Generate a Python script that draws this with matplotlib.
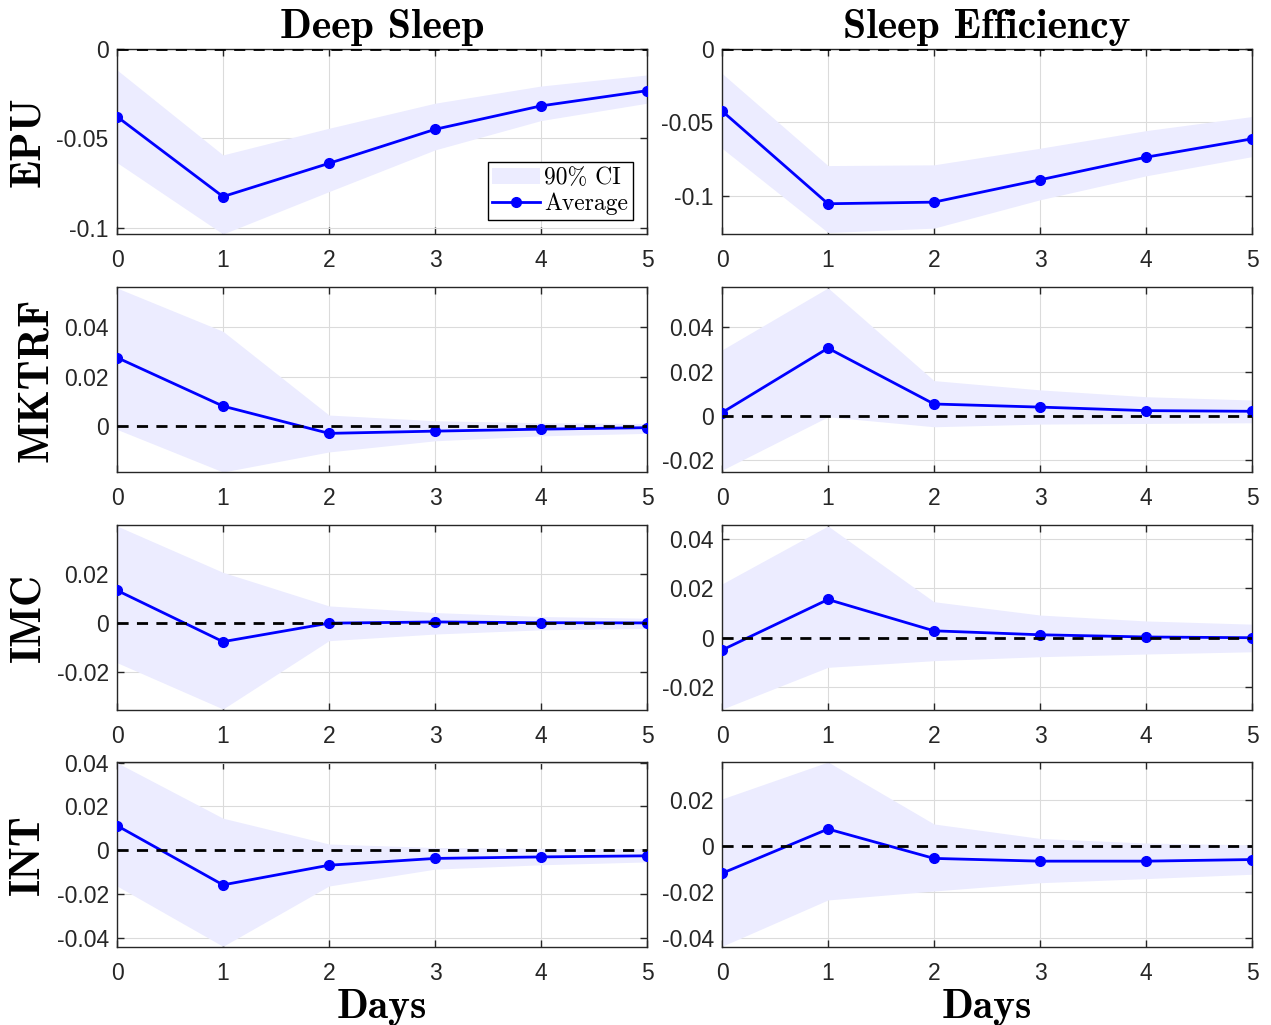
import matplotlib
matplotlib.use("Agg")
import matplotlib.pyplot as plt

plt.rcParams['axes.unicode_minus'] = False

dias = [0, 1, 2, 3, 4, 5]
colunas = ["Deep Sleep", "Sleep Efficiency"]
linhas = ["EPU", "MKTRF", "IMC", "INT"]

# media e intervalo de 90% (inferior, superior), por linha e coluna
epu_deep = [-0.0378, -0.0825, -0.0639, -0.0449, -0.0318, -0.0233]
epu_deep_inf = [-0.0635, -0.1034, -0.0797, -0.0564, -0.0400, -0.0303]
epu_deep_sup = [-0.0117, -0.0592, -0.0443, -0.0303, -0.0207, -0.0145]

epu_ef = [-0.0422, -0.1054, -0.1043, -0.0891, -0.0737, -0.0612]
epu_ef_inf = [-0.0676, -0.1250, -0.1220, -0.1027, -0.0864, -0.0733]
epu_ef_sup = [-0.0166, -0.0794, -0.0789, -0.0676, -0.0556, -0.0460]

mkt_deep = [0.0278, 0.0082, -0.0028, -0.0019, -0.0011, -0.0005]
mkt_deep_inf = [-0.0012, -0.0184, -0.0103, -0.0058, -0.0038, -0.0028]
mkt_deep_sup = [0.0559, 0.0384, 0.0046, 0.0023, 0.0015, 0.0012]

mkt_ef = [0.0014, 0.0306, 0.0053, 0.0039, 0.0023, 0.0020]
mkt_ef_inf = [-0.0247, -0.0005, -0.0050, -0.0038, -0.0035, -0.0032]
mkt_ef_sup = [0.0298, 0.0579, 0.0159, 0.0117, 0.0086, 0.0071]

imc_deep = [0.0132, -0.0076, -0.0001, 0.0004, 0.0001, 0.0]
imc_deep_inf = [-0.0161, -0.0349, -0.0072, -0.0045, -0.0028, -0.0022]
imc_deep_sup = [0.0393, 0.0205, 0.0069, 0.0042, 0.0026, 0.0019]

imc_ef = [-0.0050, 0.0155, 0.0028, 0.0012, 0.0003, 0.0]
imc_ef_inf = [-0.0290, -0.0120, -0.0093, -0.0077, -0.0066, -0.0057]
imc_ef_sup = [0.0218, 0.0453, 0.0146, 0.0092, 0.0068, 0.0055]

int_deep = [0.0112, -0.0159, -0.0069, -0.0038, -0.0031, -0.0026]
int_deep_inf = [-0.0164, -0.0440, -0.0164, -0.0087, -0.0067, -0.0054]
int_deep_sup = [0.0400, 0.0146, 0.0028, 0.0012, 0.0008, 0.0005]

int_ef = [-0.0120, 0.0073, -0.0055, -0.0067, -0.0067, -0.0060]
int_ef_inf = [-0.0438, -0.0236, -0.0197, -0.0161, -0.0143, -0.0124]
int_ef_sup = [0.0204, 0.0365, 0.0095, 0.0032, 0.0012, 0.0004]

medias = [[epu_deep, epu_ef], [mkt_deep, mkt_ef], [imc_deep, imc_ef], [int_deep, int_ef]]
inferiores = [[epu_deep_inf, epu_ef_inf], [mkt_deep_inf, mkt_ef_inf],
              [imc_deep_inf, imc_ef_inf], [int_deep_inf, int_ef_inf]]
superiores = [[epu_deep_sup, epu_ef_sup], [mkt_deep_sup, mkt_ef_sup],
              [imc_deep_sup, imc_ef_sup], [int_deep_sup, int_ef_sup]]

limites = [[(-0.1034, 0), (-0.126, 0)],
           [(-0.0184, 0.0563), (-0.0255, 0.0583)],
           [(-0.0353, 0.0397), (-0.0293, 0.0457)],
           [(-0.0443, 0.0403), (-0.0441, 0.0365)]]

ticksY = [[[-0.1, -0.05, 0], [-0.1, -0.05, 0]],
          [[0, 0.02, 0.04], [-0.02, 0, 0.02, 0.04]],
          [[-0.02, 0, 0.02], [-0.02, 0, 0.02, 0.04]],
          [[-0.04, -0.02, 0, 0.02, 0.04], [-0.04, -0.02, 0, 0.02]]]
labelsY = [[["-0.1", "-0.05", "0"], ["-0.1", "-0.05", "0"]],
           [["0", "0.02", "0.04"], ["-0.02", "0", "0.02", "0.04"]],
           [["-0.02", "0", "0.02"], ["-0.02", "0", "0.02", "0.04"]],
           [["-0.04", "-0.02", "0", "0.02", "0.04"], ["-0.04", "-0.02", "0", "0.02"]]]

fig = plt.figure(figsize=(12.71, 10.25), dpi=100)

esquerdas = [117 / 1271, 722 / 1271]
largura = 530 / 1271
baixos = [1 - 234 / 1025, 1 - 472 / 1025, 1 - 710 / 1025, 1 - 947 / 1025]
altura = 185 / 1025

corCI = (0.925, 0.925, 1.0)
corEixo = (0.15, 0.15, 0.15)

for i in range(4):
    for j in range(2):
        ax = fig.add_axes([esquerdas[j], baixos[i], largura, altura])
        ci = ax.fill_between(dias, inferiores[i][j], superiores[i][j], color=corCI,
                             linewidth=0, zorder=1, label="90% CI")
        linha, = ax.plot(dias, medias[i][j], color="blue", linewidth=2, marker="o",
                         markersize=7, zorder=3, label="Average")
        ax.axhline(0, color="black", linestyle=(0, (4, 3)), linewidth=2, zorder=4)
        ax.set_xlim(0, 5)
        ax.set_ylim(limites[i][j])
        ax.set_xticks(dias)
        ax.set_yticks(ticksY[i][j])
        ax.set_yticklabels(labelsY[i][j])
        ax.grid(True, color=(0.86, 0.86, 0.86), linewidth=0.8, zorder=0)
        ax.set_axisbelow(True)
        ax.tick_params(direction="in", top=True, right=True, length=5, width=1,
                       color=corEixo, labelsize=16.5)
        ax.tick_params(axis="x", pad=11)
        ax.tick_params(axis="y", pad=6)
        for lab in ax.get_xticklabels() + ax.get_yticklabels():
            lab.set_fontfamily("Liberation Sans")
            lab.set_color(corEixo)
        for s in ax.spines.values():
            s.set_color(corEixo)
            s.set_linewidth(1)
        if i == 0:
            ax.set_title(colunas[j], fontfamily="cmb10", fontsize=30, pad=8)
        if j == 0:
            ax.set_ylabel(linhas[i], fontfamily="cmb10", fontsize=31, labelpad=6)
        if i == 3:
            ax.set_xlabel("Days", fontfamily="cmb10", fontsize=30, labelpad=3)
        if i == 0 and j == 0:
            leg = ax.legend(handles=[ci, linha], loc="lower right",
                            prop={"family": "cmr10", "size": 17}, frameon=True,
                            fancybox=False, edgecolor="black", framealpha=1,
                            borderpad=0.2, handlelength=2.0, handletextpad=0.2,
                            labelspacing=0.15, borderaxespad=0.6)
            leg.get_frame().set_linewidth(1)

fig.savefig("out.png", dpi=100)
